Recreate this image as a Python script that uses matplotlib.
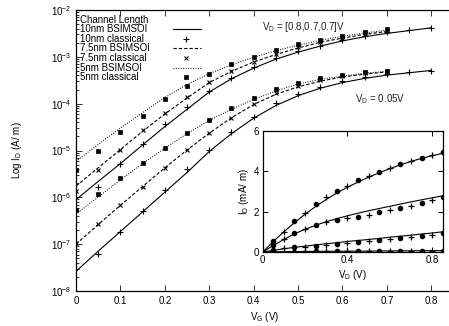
import matplotlib.pyplot as plt
import numpy as np
from matplotlib.lines import Line2D

plt.rcParams['font.family'] = ['Liberation Sans', 'DejaVu Sans']
plt.rcParams['mathtext.fontset'] = 'custom'
plt.rcParams['mathtext.rm'] = 'Liberation Sans'
plt.rcParams['mathtext.it'] = 'Liberation Sans'
plt.rcParams['font.size'] = 7

# ---- main plot data: log10 of drain current (A/um) vs gate voltage ----
vg = [0.0, 0.05, 0.1, 0.15, 0.2, 0.25, 0.3, 0.35, 0.4, 0.45, 0.5,
      0.55, 0.6, 0.65, 0.7, 0.75, 0.8]
vg_cl10 = vg[1:]          # 10nm classical points (start at 0.05)
vg_short = vg[:15]        # 7.5nm / 5nm go up to 0.7 V

# high VD
bsim10_hi = [-6.05, -5.66, -5.28, -4.88, -4.49, -4.12, -3.75, -3.47, -3.24,
             -3.05, -2.90, -2.77, -2.66, -2.57, -2.50, -2.44, -2.38]
cl10_hi = [-5.77, -5.28, -4.86, -4.44, -4.07, -3.72, -3.45, -3.22, -3.03,
           -2.88, -2.76, -2.63, -2.55, -2.48, -2.43, -2.38]
bsim75_hi = [-5.76, -5.37, -4.98, -4.59, -4.22, -3.88, -3.55, -3.31, -3.11,
             -2.95, -2.81, -2.69, -2.60, -2.52, -2.46]
cl75_hi = [-5.87, -5.41, -4.99, -4.56, -4.19, -3.85, -3.53, -3.30, -3.10,
           -2.94, -2.79, -2.68, -2.59, -2.52, -2.45]
bsim5_hi = [-5.23, -4.87, -4.52, -4.19, -3.87, -3.59, -3.36, -3.17, -3.01,
            -2.87, -2.75, -2.65, -2.56, -2.49, -2.43]
cl5_hi = [-5.41, -5.01, -4.61, -4.26, -3.91, -3.62, -3.37, -3.16, -3.00,
          -2.86, -2.73, -2.64, -2.55, -2.48, -2.41]

# VD = 0.05 V
bsim10_lo = [-7.58, -7.15, -6.73, -6.31, -5.89, -5.47, -5.02, -4.64, -4.31,
             -4.04, -3.83, -3.67, -3.55, -3.46, -3.39, -3.34, -3.29]
cl10_lo = [-7.21, -6.75, -6.29, -5.84, -5.40, -4.99, -4.60, -4.28, -3.99,
           -3.79, -3.64, -3.52, -3.44, -3.37, -3.33, -3.30]
bsim75_lo = [-7.00, -6.58, -6.17, -5.77, -5.37, -4.99, -4.63, -4.30, -4.02,
             -3.80, -3.64, -3.52, -3.43, -3.37, -3.32]
cl75_lo = [-6.98, -6.57, -6.16, -5.77, -5.38, -4.99, -4.62, -4.30, -4.01,
           -3.78, -3.62, -3.50, -3.41, -3.35, -3.30]
bsim5_lo = [-6.36, -5.99, -5.63, -5.28, -4.95, -4.64, -4.36, -4.12, -3.91,
            -3.73, -3.58, -3.48, -3.41, -3.35, -3.31]
cl5_lo = [-6.27, -5.92, -5.58, -5.26, -4.94, -4.63, -4.34, -4.10, -3.87,
          -3.69, -3.55, -3.46, -3.39, -3.33, -3.30]

# ---- inset data: ID (mA/um) vs VD ----
vd = [0.0, 0.05, 0.1, 0.15, 0.2, 0.25, 0.3, 0.35, 0.4, 0.45, 0.5,
      0.55, 0.6, 0.65, 0.7, 0.75, 0.8, 0.85]
id_lines = [
    [0, 0.52, 1.00, 1.45, 1.87, 2.25, 2.60, 2.92, 3.20, 3.46, 3.70,
     3.92, 4.12, 4.31, 4.48, 4.63, 4.76, 4.88],
    [0, 0.32, 0.62, 0.90, 1.12, 1.32, 1.50, 1.65, 1.79, 1.92, 2.04,
     2.15, 2.26, 2.37, 2.48, 2.58, 2.68, 2.78],
    [0, 0.08, 0.16, 0.23, 0.29, 0.35, 0.41, 0.46, 0.52, 0.57, 0.62,
     0.67, 0.73, 0.78, 0.83, 0.89, 0.94, 1.00],
    [0, 0.01, 0.015, 0.02, 0.025, 0.03, 0.033, 0.036, 0.04, 0.043, 0.046,
     0.05, 0.053, 0.056, 0.06, 0.063, 0.066, 0.07],
]
id_points = [
    [0, 0.56, 1.00, 1.53, 1.95, 2.36, 2.71, 3.03, 3.28, 3.56, 3.76,
     3.98, 4.17, 4.34, 4.50, 4.64, 4.80, 4.97],
    [0, 0.35, 0.66, 0.93, 1.15, 1.33, 1.47, 1.58, 1.67, 1.74, 1.83,
     1.98, 2.08, 2.20, 2.30, 2.42, 2.55, 2.70],
    [0, 0.12, 0.18, 0.23, 0.27, 0.32, 0.37, 0.41, 0.45, 0.49, 0.54,
     0.59, 0.64, 0.69, 0.74, 0.80, 0.86, 0.92],
    [0, 0.02, 0.02, 0.02, 0.025, 0.03, 0.03, 0.035, 0.04, 0.04, 0.045,
     0.05, 0.05, 0.055, 0.06, 0.06, 0.065, 0.07],
]

legend_labels = ["10nm BSIMSOI", "10nm classical", "7.5nm BSIMSOI",
                 "7.5nm classical", "5nm BSIMSOI", "5nm classical"]

DASH = (0, (3.0, 1.8))
DOT = (0, (0.8, 1.4))
lw = 0.8

fig = plt.figure(figsize=(4.49, 3.26), dpi=100)
ax = fig.add_axes([76 / 449, 35 / 326, 377.5 / 449, 281 / 326])


def p(v):
    return 10 ** np.array(v)


# BSIMSOI curves
ax.plot(vg, p(bsim10_hi), '-', color='black', lw=lw)
ax.plot(vg, p(bsim10_lo), '-', color='black', lw=lw)
ax.plot(vg_short, p(bsim75_hi), linestyle=DASH, color='black', lw=lw)
ax.plot(vg_short, p(bsim75_lo), linestyle=DASH, color='black', lw=lw)
ax.plot(vg_short, p(bsim5_hi), linestyle=DOT, color='black', lw=lw)
ax.plot(vg_short, p(bsim5_lo), linestyle=DOT, color='black', lw=lw)

# classical points
mk_plus = dict(marker='+', ms=4.5, mew=0.8, color='black', ls='none')
mk_x = dict(marker='x', ms=3.5, mew=0.8, color='black', ls='none')
mk_sq = dict(marker='s', ms=3.2, mew=0.5, color='black', ls='none')

ax.plot(vg_cl10, p(cl10_hi), **mk_plus)
ax.plot(vg_cl10, p(cl10_lo), **mk_plus)
ax.plot(vg_short, p(cl75_hi), **mk_x)
ax.plot(vg_short, p(cl75_lo), **mk_x)
ax.plot(vg_short, p(cl5_hi), **mk_sq)
ax.plot(vg_short, p(cl5_lo), **mk_sq)

ax.set_yscale('log')
ax.set_xlim(0, 0.85)
ax.set_ylim(1e-8, 1e-2)
ax.set_xticks([0, 0.1, 0.2, 0.3, 0.4, 0.5, 0.6, 0.7, 0.8])
ax.set_xticklabels(["0", "0.1", "0.2", "0.3", "0.4", "0.5", "0.6", "0.7", "0.8"])
ax.tick_params(which='both', direction='in', top=True, right=False,
               labelsize=7, width=0.7, color='#333333')
ax.tick_params(which='major', length=4)
ax.tick_params(which='minor', length=2)
ax.tick_params(axis='x', which='minor', top=False, bottom=False)
ax.spines['right'].set_visible(False)
for s in ['left', 'top', 'bottom']:
    ax.spines[s].set_linewidth(0.9)
ax.set_xlabel("V$_G$ (V)", fontsize=7, labelpad=3)
ax.set_ylabel("Log I$_D$ (A/ m)", fontsize=7, labelpad=19)

ax.text(0.419, 10 ** -2.36, "V$_D$ = [0.8,0.7,0.7]V", fontsize=7,
        ha='left', va='center', color='#222222')
ax.text(0.628, 10 ** -3.90, "V$_D$ = 0.05V", fontsize=7,
        ha='left', va='center', color='#222222')

# legend laid out like gnuplot: text on the left, samples on the right
ax.text(0.011, 0.964, "Channel Length", transform=ax.transAxes,
        fontsize=7, ha='left', va='center')
rows = [0.931, 0.897, 0.863, 0.829, 0.795, 0.762]
styles = [dict(ls='-', lw=lw, color='black'), mk_plus,
          dict(ls=DASH, lw=lw, color='black'), mk_x,
          dict(ls=DOT, lw=lw, color='black'), mk_sq]
for yy, lab, st in zip(rows, legend_labels, styles):
    ax.text(0.011, yy, lab, transform=ax.transAxes, fontsize=7,
            ha='left', va='center')
    if st.get('ls') == 'none':
        ax.add_line(Line2D([0.292], [yy], transform=ax.transAxes, **st))
    else:
        ax.add_line(Line2D([0.257, 0.332], [yy, yy],
                           transform=ax.transAxes, **st))

# ---- inset ----
ins = fig.add_axes([262.7 / 449, 74 / 326, 180 / 449, 121.3 / 326])
for line in id_lines:
    ins.plot(vd, line, '-', color='black', lw=lw)
for pts in id_points:
    ins.plot(vd[1::2], pts[1::2], marker='o', ms=3.0, color='black', ls='none')
    ins.plot(vd[2::2], pts[2::2], marker='+', ms=5, mew=0.9,
             color='black', ls='none')
    ins.plot(vd[:1], pts[:1], marker='o', ms=3.0, color='black', ls='none')
ins.set_xlim(0, 0.85)
ins.set_ylim(0, 6)
ins.set_xticks([0, 0.4, 0.8])
ins.set_xticklabels(["0", "0.4", "0.8"])
ins.set_yticks([0, 2, 4, 6])
ins.tick_params(direction='in', top=True, right=True, labelsize=7,
                length=3.5, width=0.7, pad=2.5)
for s in ins.spines.values():
    s.set_linewidth(0.9)
ins.set_xlabel("V$_D$ (V)", fontsize=7, labelpad=2)
ins.set_ylabel("I$_D$ (mA/ m)", fontsize=7, labelpad=2)

fig.savefig("out.png", dpi=100)
